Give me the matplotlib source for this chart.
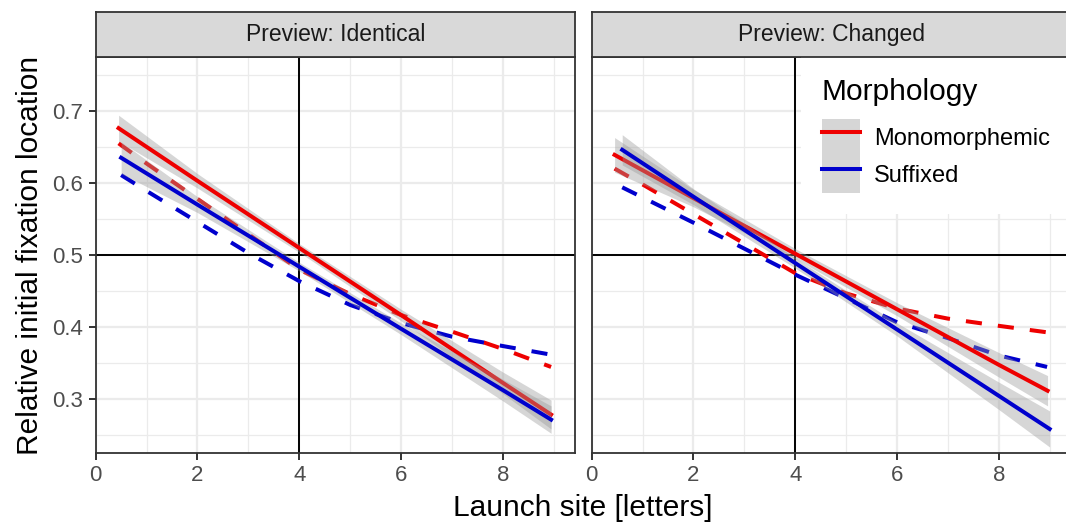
import numpy as np
import matplotlib
matplotlib.use("Agg")
import matplotlib.pyplot as plt
from matplotlib.lines import Line2D
from matplotlib.patches import Patch

# Data
# ~~~~~~~~~~~~~~~~~~~~~~~~~~~~~~~~~~
panels = ["Preview: Identical", "Preview: Changed"]
groups = ["Monomorphemic", "Suffixed"]

# linear fits (solid) with confidence band half widths
fit_x_ident_mono = [0.45, 2, 4, 6, 8, 8.95]
fit_y_ident_mono = [0.676, 0.603, 0.510, 0.417, 0.323, 0.279]
fit_hw_ident_mono = [0.018, 0.010, 0.006, 0.008, 0.015, 0.020]
fit_x_ident_suff = [0.5, 2, 4, 6, 8, 8.95]
fit_y_ident_suff = [0.635, 0.570, 0.484, 0.398, 0.313, 0.272]
fit_hw_ident_suff = [0.022, 0.011, 0.006, 0.008, 0.015, 0.019]
fit_x_chang_mono = [0.45, 2, 4, 6, 8, 8.96]
fit_y_chang_mono = [0.639, 0.579, 0.502, 0.425, 0.348, 0.312]
fit_hw_chang_mono = [0.024, 0.012, 0.007, 0.009, 0.017, 0.021]
fit_x_chang_suff = [0.6, 2, 4, 6, 8, 9.0]
fit_y_chang_suff = [0.646, 0.581, 0.489, 0.397, 0.305, 0.259]
fit_hw_chang_suff = [0.021, 0.011, 0.007, 0.009, 0.019, 0.025]

# observed means (dashed)
obs_x_ident_mono = [0.45, 1, 2, 3, 4, 5, 6, 7, 8, 8.95]
obs_y_ident_mono = [0.655, 0.627, 0.578, 0.529, 0.480, 0.446, 0.417, 0.394, 0.370, 0.345]
obs_x_ident_suff = [0.5, 1, 2, 3, 4, 5, 6, 7, 8, 8.95]
obs_y_ident_suff = [0.611, 0.589, 0.546, 0.503, 0.464, 0.431, 0.406, 0.387, 0.374, 0.362]
obs_x_chang_mono = [0.45, 1, 2, 3, 4, 5, 6, 7, 8, 8.95]
obs_y_chang_mono = [0.620, 0.598, 0.557, 0.516, 0.475, 0.447, 0.426, 0.412, 0.402, 0.393]
obs_x_chang_suff = [0.6, 1, 2, 3, 4, 5, 6, 7, 8, 8.95]
obs_y_chang_suff = [0.594, 0.580, 0.545, 0.509, 0.473, 0.440, 0.407, 0.385, 0.361, 0.345]

x_ticks = [0, 2, 4, 6, 8]
y_ticks = [0.3, 0.4, 0.5, 0.6, 0.7]
ref_x = 4
ref_y = 0.5

colors = {"Monomorphemic": "#EE0000", "Suffixed": "#0000CD"}


def draw_panel(ax, fits, obs):
    # Grid like theme_bw
    ax.set_xlim(0, 9.42)
    ax.set_ylim(0.2261, 0.7747)
    ax.set_xticks(x_ticks)
    ax.set_yticks(y_ticks)
    ax.set_xticks([1, 3, 5, 7, 9], minor=True)
    ax.set_yticks([0.25, 0.35, 0.45, 0.55, 0.65, 0.75], minor=True)
    ax.grid(True, which="major", color="#EBEBEB", lw=1.6)
    ax.grid(True, which="minor", color="#EBEBEB", lw=0.9)
    ax.set_axisbelow(True)
    ax.tick_params(which="minor", length=0)
    ax.tick_params(which="major", length=5, width=1.4, color="#333333",
                   labelsize=16, labelcolor="#4D4D4D", pad=4)
    for sp in ax.spines.values():
        sp.set_color("#333333")
        sp.set_linewidth(1.3)

    # reference lines
    ax.axvline(ref_x, color="black", lw=1.4, zorder=1.5)
    ax.axhline(ref_y, color="black", lw=1.4, zorder=1.5)

    # dashed observed lines first
    for g in groups:
        x, y = obs[g]
        ax.plot(x, y, color=colors[g], lw=2.9, ls=(0, (4, 4)), zorder=2)

    # linear fits with ribbons
    for g in groups:
        x, y, hw = fits[g]
        y = np.array(y)
        hw = np.array(hw)
        ax.fill_between(x, y - hw, y + hw, color="#999999", alpha=0.4, lw=0, zorder=3)
        ax.plot(x, y, color=colors[g], lw=2.9, zorder=3)


def add_strip(fig, rect, label):
    sax = fig.add_axes(rect)
    sax.set_facecolor("#D9D9D9")
    sax.set_xticks([])
    sax.set_yticks([])
    for sp in sax.spines.values():
        sp.set_color("#333333")
        sp.set_linewidth(1.3)
    sax.text(0.5, 0.5, label, ha="center", va="center", fontsize=16.5, color="#1A1A1A",
             transform=sax.transAxes)


def main():
    plt.rcParams["font.family"] = ["Liberation Sans", "DejaVu Sans"]

    fig = plt.figure(figsize=(10.66, 5.26), dpi=100)
    W, H = 1066.0, 526.0
    width = 479.3 / W
    bottom = (H - 452.7) / H
    height = (452.7 - 57) / H
    lefts = [95.7 / W, 591.7 / W]

    fits = [
        {"Monomorphemic": (fit_x_ident_mono, fit_y_ident_mono, fit_hw_ident_mono),
         "Suffixed": (fit_x_ident_suff, fit_y_ident_suff, fit_hw_ident_suff)},
        {"Monomorphemic": (fit_x_chang_mono, fit_y_chang_mono, fit_hw_chang_mono),
         "Suffixed": (fit_x_chang_suff, fit_y_chang_suff, fit_hw_chang_suff)},
    ]
    obs = [
        {"Monomorphemic": (obs_x_ident_mono, obs_y_ident_mono),
         "Suffixed": (obs_x_ident_suff, obs_y_ident_suff)},
        {"Monomorphemic": (obs_x_chang_mono, obs_y_chang_mono),
         "Suffixed": (obs_x_chang_suff, obs_y_chang_suff)},
    ]

    axes = []
    for i, name in enumerate(panels):
        ax = fig.add_axes([lefts[i], bottom, width, height])
        draw_panel(ax, fits[i], obs[i])
        add_strip(fig, [lefts[i], (H - 57) / H, width, 45 / H], name)
        axes.append(ax)

    axes[0].set_yticklabels([f"{v:.1f}" for v in y_ticks])
    axes[1].tick_params(axis="y", left=False, labelleft=False)

    # Legend inside the right panel
    handles = [(Patch(facecolor="#D6D6D6", edgecolor="none"),
                Line2D([], [], color=colors[g], lw=2.9)) for g in groups]
    leg = axes[1].legend(handles, groups, title="Morphology", loc="upper right",
                         bbox_to_anchor=(1.0, 1.0), borderaxespad=0, fontsize=17,
                         title_fontsize=21.5, handlelength=1.6, handleheight=2.03,
                         labelspacing=0, handletextpad=0.6, borderpad=0.9,
                         frameon=True, fancybox=False, alignment="left")
    leg._legend_box.sep = 9
    leg.get_frame().set_facecolor("white")
    leg.get_frame().set_edgecolor("none")
    leg.get_frame().set_alpha(1)
    leg.set_zorder(5)

    # Axis titles
    fig.text(583 / W, (H - 508) / H, "Launch site [letters]", ha="center", va="center",
             fontsize=21.5, color="black")
    fig.text(30 / W, (H - 255) / H, "Relative initial fixation location", ha="center",
             va="center", rotation=90, fontsize=21.5, color="black")

    fig.savefig("out.png", dpi=100)


if __name__ == "__main__":
    main()
